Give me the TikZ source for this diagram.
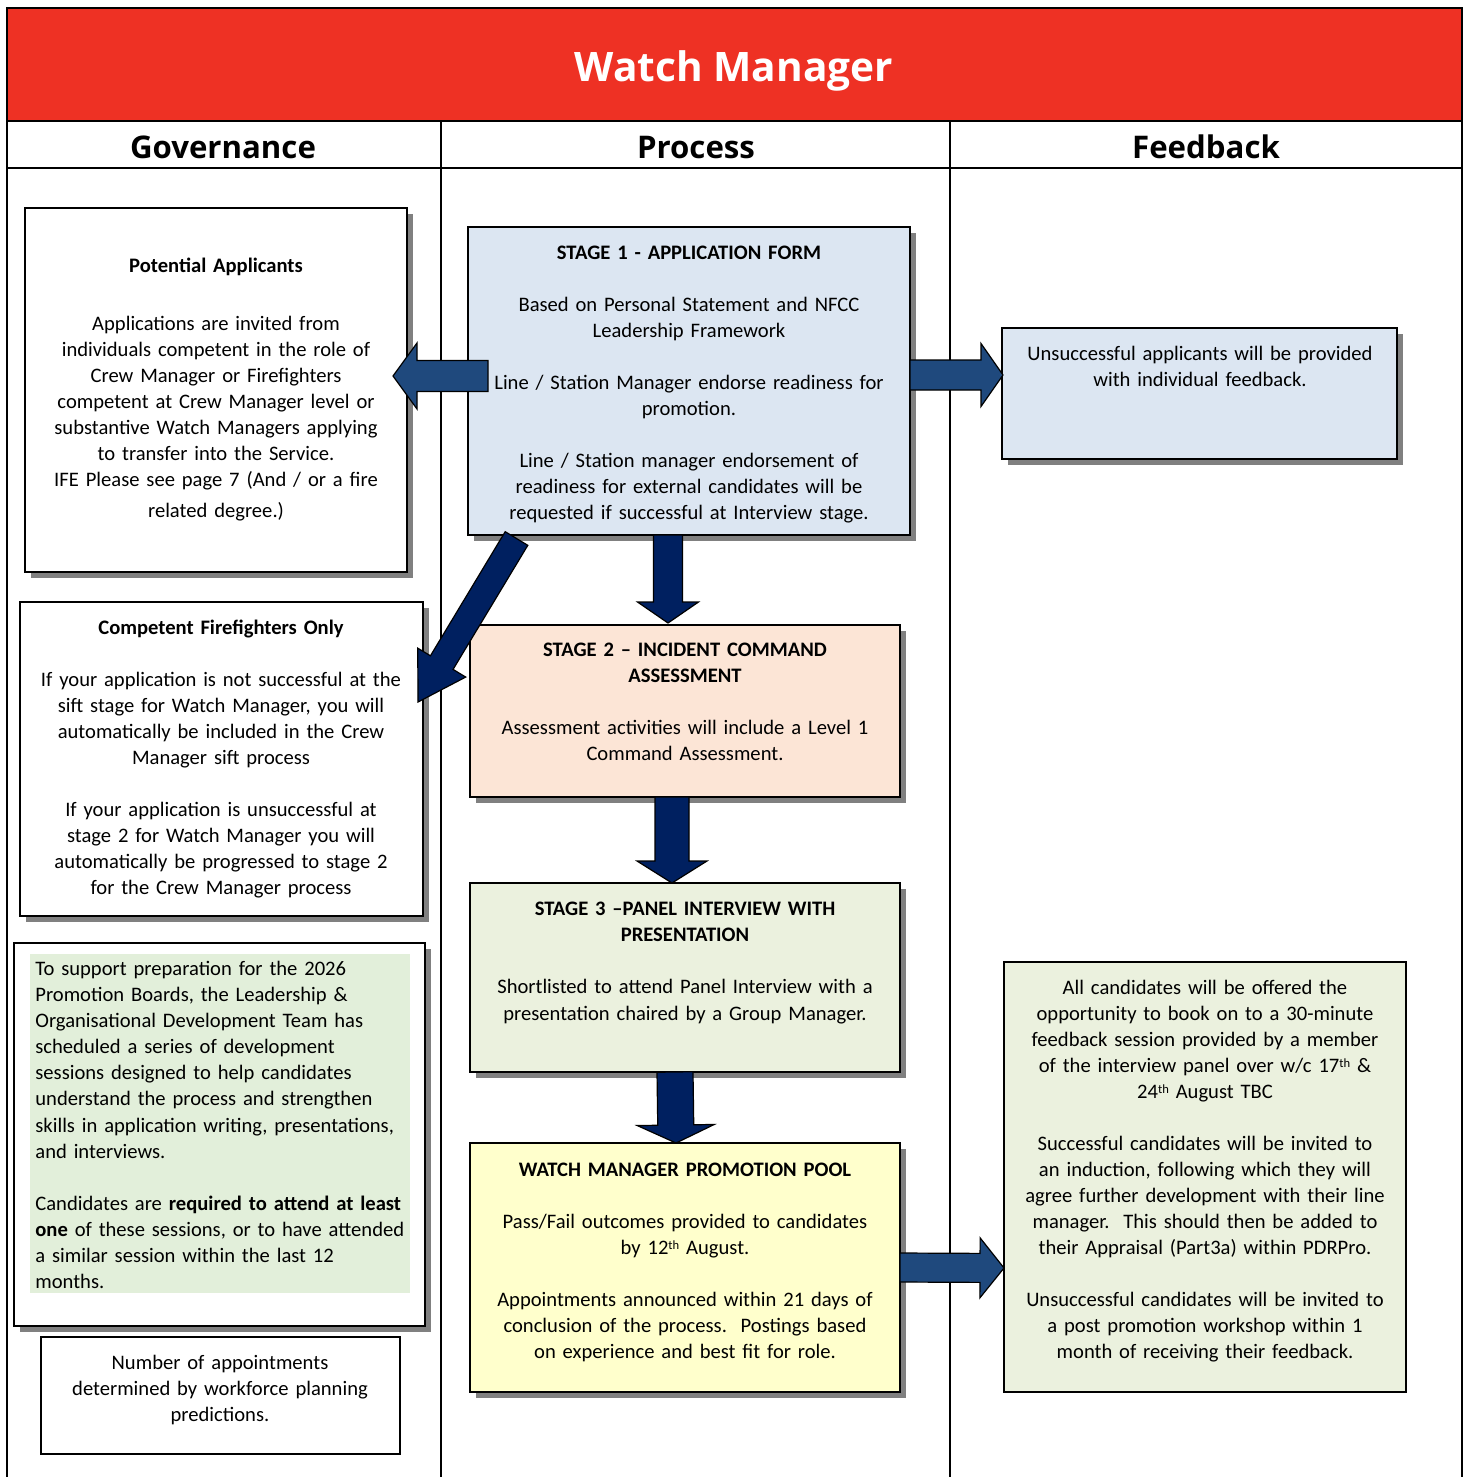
\documentclass[tikz,border=0pt]{standalone}
\usepackage{fontspec}
\setmainfont{Carlito}
\newfontfamily\headfont{Open Sans}
\usetikzlibrary{calc,shadows}
\definecolor{hdrred}{HTML}{EE3124}
\definecolor{lblue}{HTML}{DCE6F2}
\definecolor{lpeach}{HTML}{FCE5D6}
\definecolor{lgreen}{HTML}{EBF1DE}
\definecolor{dgreen}{HTML}{E2EFDA}
\definecolor{lyellow}{HTML}{FFFFCC}
\definecolor{abl}{HTML}{1F497D}
\definecolor{navyc}{HTML}{002060}
\newcommand\thsup{{\fontsize{6.3}{6.3}\selectfont\raisebox{0.42em}{th}}}
\newcommand\boxnode[6]{%
  \node[#1, minimum width={(#5-#3)*0.5pt}, minimum height={(#6-#4)*0.5pt}] (#2) at ({(#3+#5)/2},{(#4+#6)/2}) {};}
% #1 style, #2 start, #3 tip, #4 shaft half width, #5 head half width, #6 head length
\newcommand\blockarrow[6]{%
  \path ($(#3)!#6!(#2)$) coordinate (baH);
  \draw[#1] ($(#2)!#4!90:(#3)$) -- ($(baH)!#4!90:(#3)$) -- ($(baH)!#5!90:(#3)$) -- (#3)
    -- ($(baH)!#5!-90:(#3)$) -- ($(baH)!#4!-90:(#3)$) -- ($(#2)!#4!-90:(#3)$) -- cycle;}
\begin{document}
\begin{tikzpicture}[x=0.5pt,y=-0.5pt,
  box/.style={draw=black, line width=1pt, inner sep=0pt, outer sep=0pt},
  shbox/.style={box, drop shadow={shadow xshift=3pt, shadow yshift=-3pt, fill=black!50, opacity=1}},
  txt/.style={inner sep=0pt, anchor=north, align=center, font=\fontsize{10.3}{13}\selectfont, execute at begin node=\strut},
  lighta/.style={draw=black, line width=0.6pt, fill=abl},
  darka/.style={draw=black, line width=0.6pt, fill=navyc},
  grid/.style={line width=1.3pt},
  colhead/.style={inner sep=0pt, anchor=base, font=\headfont\bfseries\fontsize{15.6}{18}\selectfont}]
\useasboundingbox (0,0) rectangle (1470,1477);
% header and grid
\fill[hdrred] (7,8) rectangle (1462,121);
\node[inner sep=0pt, anchor=base, text=white, font=\headfont\bfseries\fontsize{20.3}{24}\selectfont] (title) at (734,82) {Watch Manager};
\draw[grid] (7,1490) -- (7,8) -- (1462,8) -- (1462,1490);
\draw[grid] (7,121) -- (1462,121);
\draw[grid] (7,168) -- (1462,168);
\draw[grid] (441,121) -- (441,1490);
\draw[grid] (950,121) -- (950,1490);
\node[colhead] (hgov) at (223,158) {Governance};
\node[colhead] (hproc) at (696,158) {Process};
\node[colhead] (hfb) at (1206,158) {Feedback};
% boxes
\boxnode{shbox, fill=white}{pa}{25}{208}{407}{572}
\boxnode{shbox, fill=lblue}{s1}{468}{227}{910}{535}
\boxnode{shbox, fill=lblue}{fb1}{1002}{328}{1397}{459}
\boxnode{shbox, fill=white}{cf}{20}{602}{423}{916}
\boxnode{shbox, fill=lpeach}{s2}{470}{625}{900}{797}
\boxnode{shbox, fill=lgreen}{s3}{470}{883}{900}{1072}
\boxnode{shbox, fill=lyellow}{pool}{470}{1143}{900}{1392}
\boxnode{box, fill=lgreen}{fb2}{1004}{962}{1406}{1392}
\boxnode{shbox, fill=white}{dev}{14}{943}{425}{1326}
\boxnode{inner sep=0pt, fill=dgreen}{devin}{30}{954}{410}{1293}
\boxnode{box, fill=white}{num}{41}{1337}{400}{1454}
% block arrows
\coordinate (aLs) at ($(s1.west)+(20,-5)$);
\coordinate (aLt) at ($(pa.east)+(-14,-14)$);
\blockarrow{lighta}{aLs}{aLt}{7.75pt}{16.5pt}{12pt}
\coordinate (aRs) at ($(s1.east)+(0,-6)$);
\coordinate (aRt) at ($(fb1.west)+(1,-18.5)$);
\blockarrow{lighta}{aRs}{aRt}{7.5pt}{15.75pt}{11pt}
\coordinate (aD1s) at ($(s1.south)+(-21,0)$);
\coordinate (aD1t) at ($(s2.north)+(-17,-2)$);
\blockarrow{darka}{aD1s}{aD1t}{7.25pt}{15.25pt}{10.5pt}
\coordinate (aD2s) at ($(s2.south)+(-13,0)$);
\coordinate (aD2t) at ($(s3.north)+(-13,0)$);
\blockarrow{darka}{aD2s}{aD2t}{8.5pt}{17.5pt}{11pt}
\coordinate (aD3s) at ($(s3.south)+(-10,0)$);
\coordinate (aD3t) at ($(pool.north)+(-9,0)$);
\blockarrow{darka}{aD3s}{aD3t}{9pt}{19.25pt}{9pt}
\coordinate (aR2s) at (pool.east);
\coordinate (aR2t) at ($(fb2.west)+(0,91)$);
\blockarrow{lighta}{aR2s}{aR2t}{7.25pt}{15pt}{12pt}
\coordinate (aDgs) at ($(s1.south west)+(48.5,3.5)$);
\coordinate (aDgt) at ($(cf.east)+(-5,-57)$);
\blockarrow{darka}{aDgs}{aDgt}{6.6pt}{14pt}{23pt}
% texts
\node[txt, text width=190pt] (tpa) at (216,254) {\textbf{Potential Applicants}\\[16pt]
Applications are invited from\\
individuals competent in the role of\\
Crew Manager or Firefighters\\
competent at Crew Manager level or\\
substantive Watch Managers applying\\
to transfer into the Service.\\
IFE Please see page 7 (And / or a fire\hspace*{0.9em}\\[2.5pt]
related degree.)\hspace*{0.9em}};
\node[txt, text width=220pt] (ts1) at (689,241) {\textbf{STAGE 1 - APPLICATION FORM}\\[13pt]
Based on Personal Statement and NFCC\\
Leadership Framework\\[13pt]
Line / Station Manager endorse readiness for\\
promotion.\\[13pt]
Line / Station manager endorsement of\\
readiness for external candidates will be\\
requested if successful at Interview stage.};
\node[txt, text width=196pt] (tfb1) at (1200,342) {Unsuccessful applicants will be provided\\
with individual feedback.};
\node[txt, text width=200pt] (tcf) at (221,616) {\textbf{Competent Firefighters Only}\\[13pt]
If your application is not successful at the\\
sift stage for Watch Manager, you will\\
automatically be included in the Crew\\
Manager sift process\\[13pt]
If your application is unsuccessful at\\
stage 2 for Watch Manager you will\\
automatically be progressed to stage 2\\
for the Crew Manager process};
\node[txt, text width=214pt] (ts2) at (685,638) {\textbf{STAGE 2 – INCIDENT COMMAND}\\
\textbf{ASSESSMENT}\\[13pt]
Assessment activities will include a Level 1\\
Command Assessment.};
\node[txt, text width=214pt] (ts3) at (685,897) {\textbf{STAGE 3 –PANEL INTERVIEW WITH}\\
\textbf{PRESENTATION}\\[13pt]
Shortlisted to attend Panel Interview with a\\[0.5pt]
presentation chaired by a Group Manager.};
\node[txt, text width=214pt] (tpool) at (685,1158) {\textbf{WATCH MANAGER PROMOTION POOL}\\[13pt]
Pass/Fail outcomes provided to candidates\\
by 12\thsup{} August.\\[13pt]
Appointments announced within 21 days of\\
conclusion of the process.\ \ Postings based\\
on experience and best fit for role.};
\node[txt, text width=200pt] (tfb2) at (1205,976) {All candidates will be offered the\\
opportunity to book on to a 30-minute\\
feedback session provided by a member\\
of the interview panel over w/c 17\thsup{} \&\\
24\thsup{} August TBC\\[13pt]
Successful candidates will be invited to\\
an induction, following which they will\\
agree further development with their line\\
manager.\ \ This should then be added to\\
their Appraisal (Part3a) within PDRPro.\\[13pt]
Unsuccessful candidates will be invited to\\
a post promotion workshop within 1\\
month of receiving their feedback.};
\node[txt, anchor=north west, align=left, text width=200pt] (tdev) at (35,957) {To support preparation for the 2026\\
Promotion Boards, the Leadership \&\\
Organisational Development Team has\\
scheduled a series of development\\
sessions designed to help candidates\\
understand the process and strengthen\\[0.5pt]
skills in application writing, presentations,\\
and interviews.\\[13pt]
Candidates are \textbf{required to attend at least}\\
\textbf{one} of these sessions, or to have attended\\
a similar session within the last 12\\
months.};
\node[txt, text width=178pt] (tnum) at (220,1351) {Number of appointments\\
determined by workforce planning\\
predictions.};
\end{tikzpicture}
\end{document}
